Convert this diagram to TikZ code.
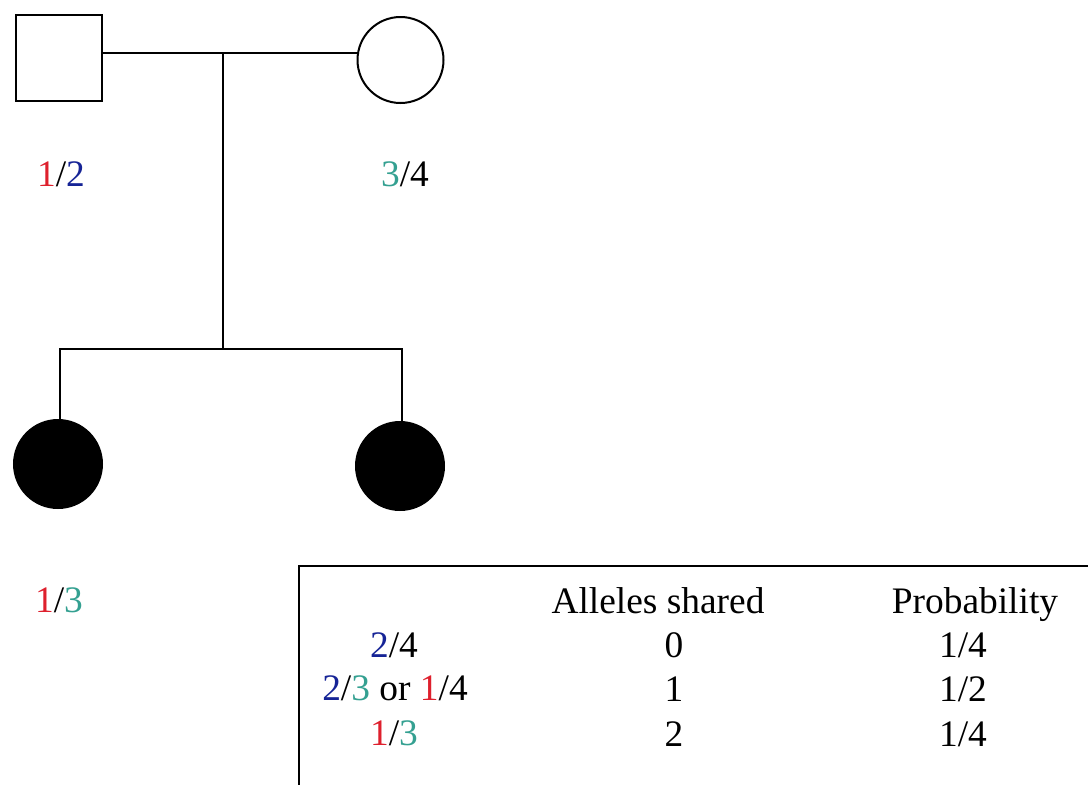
\documentclass[tikz,border=0pt]{standalone}
\usepackage{fontspec}
\setmainfont{Liberation Serif}
\definecolor{alRed}{RGB}{222,32,45}
\definecolor{alBlue}{RGB}{22,36,150}
\definecolor{alTeal}{RGB}{52,160,145}
\begin{document}
\begin{tikzpicture}[x=1pt,y=-1pt,
  lnk/.style={line width=2pt,black},
  person/.style={draw=black,line width=2pt,inner sep=0pt,minimum size=86pt},
  affected/.style={person,fill=black,minimum size=88pt},
  lbl/.style={anchor=base,inner sep=0pt,font=\fontsize{37.4}{44}\selectfont}]
\useasboundingbox (0,0) rectangle (1088,785);
\clip (0,0) rectangle (1088,785);
% pedigree
\node[person,rectangle] (father) at (58.5,57.5) {};
\node[person,circle] (mother) at (400.5,60) {};
\node[affected,circle] (kid1) at (58,464) {};
\node[affected,circle] (kid2) at (400,466) {};
\coordinate (mid) at (223,52.5);
\coordinate (sib) at (223,349);
\coordinate (sibL) at (60,349);
\coordinate (sibR) at (402,349);
\draw[lnk] (father.east |- mid) -- (mid) -- (mother.west |- mid);
\draw[lnk] (mid) -- (sib);
\draw[lnk] (sibL |- kid1.north) -- (sibL) -- (sibR) -- (sibR |- kid2.north);
% genotype labels
\node[lbl] (gF) at (61,186) {\textcolor{alRed}{1}/\textcolor{alBlue}{2}};
\node[lbl] (gM) at (405,186) {\textcolor{alTeal}{3}/4};
\node[lbl] (gK) at (59,612) {\textcolor{alRed}{1}/\textcolor{alTeal}{3}};
% table frame (runs off the picture)
\coordinate (tl) at (299,566);
\coordinate (tr) at (1100,566);
\coordinate (bl) at (299,800);
\draw[line width=2pt] (bl) -- (tl) -- (tr);
% table text
\node[lbl] (h2) at (658,613) {Alleles shared};
\node[lbl] (h3) at (975,613) {Probability};
\node[lbl] (r1a) at (394,657) {\textcolor{alBlue}{2}/4};
\node[lbl] (r1b) at (674,657) {0};
\node[lbl] (r1c) at (963,657) {1/4};
\node[lbl] (r2a) at (395,700) {\textcolor{alBlue}{2}/\textcolor{alTeal}{3} or \textcolor{alRed}{1}/4};
\node[lbl] (r2b) at (674,701) {1};
\node[lbl] (r2c) at (963,701) {1/2};
\node[lbl] (r3a) at (394,745) {\textcolor{alRed}{1}/\textcolor{alTeal}{3}};
\node[lbl] (r3b) at (674,746) {2};
\node[lbl] (r3c) at (963,746) {1/4};
\end{tikzpicture}
\end{document}
